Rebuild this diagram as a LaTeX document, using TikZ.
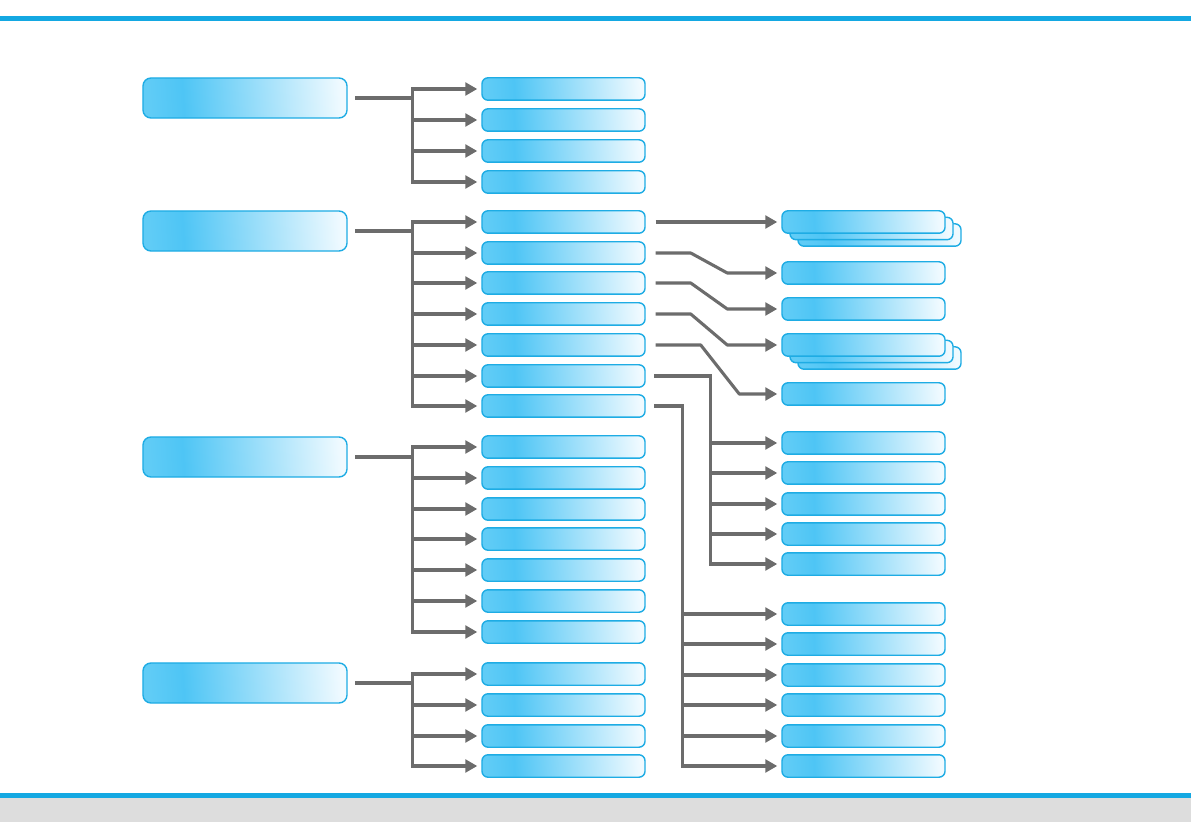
\documentclass[tikz,border=0pt]{standalone}
\usetikzlibrary{positioning,arrows.meta}
\definecolor{rulecyan}{RGB}{20,168,226}
\definecolor{bandgray}{RGB}{221,221,221}
\definecolor{linkgray}{RGB}{108,108,108}
\definecolor{boxedge}{RGB}{30,172,228}
\definecolor{boxlip}{RGB}{96,204,246}
\definecolor{boxdeep}{RGB}{78,197,245}
\definecolor{boxpale}{RGB}{240,250,255}
\pgfdeclarehorizontalshading{boxshade}{100bp}{color(0bp)=(boxlip);
  color(25bp)=(boxlip); color(34bp)=(boxdeep); color(75bp)=(boxpale);
  color(100bp)=(boxpale)}
\tikzset{
  box/.style={draw=boxedge,line width=1pt,shading=boxshade,
    shading angle=4,inner sep=0pt},
  headbox/.style={box,minimum width=5.1cm,minimum height=1cm,
    rounded corners=0.2cm},
  itembox/.style={box,minimum width=4.075cm,minimum height=0.56cm,
    rounded corners=0.15cm},
  link/.style={linkgray,line width=2.2pt,line cap=rect},
  arrow/.style={linkgray,line width=2.2pt,line join=round,
    -{Triangle[length=0.3cm,width=0.32cm]},shorten >=0.1cm},
}
\begin{document}
\begin{tikzpicture}[x=0.025cm,y=-0.025cm]
        \useasboundingbox (0,0) rectangle (1191,839);
        % rules top and bottom
        \draw[rulecyan,line width=0.125cm] (0,18.5) -- (1191,18.5);
        \fill[bandgray] (0,798) rectangle (1191,822);
        \draw[rulecyan,line width=0.125cm] (0,795.5) -- (1191,795.5);
        % left column
        \node[headbox] (cat1) at (245,98) {};
        \node[headbox] (cat2) at (245,231) {};
        \node[headbox] (cat3) at (245,457) {};
        \node[headbox] (cat4) at (245,683) {};
        % middle column
        \foreach \y [count=\i] in {89,120,151,182}
          \node[itembox] (a\i) at (563.5,\y) {};
        \foreach \y [count=\i] in {222,253,283,314,345,376,406}
          \node[itembox] (b\i) at (563.5,\y) {};
        \foreach \y [count=\i] in {447,478,509,539,570,601,632}
          \node[itembox] (c\i) at (563.5,\y) {};
        \foreach \y [count=\i] in {674,705,736,766}
          \node[itembox] (d\i) at (563.5,\y) {};
        % right column, stacked ones first
        \foreach \k in {2,1}{
          \node[itembox] (r1back\k) at (863.5+8*\k,222+6.5*\k) {};
          \node[itembox] (r4back\k) at (863.5+8*\k,345+6.5*\k) {};
        }
        \foreach \y [count=\i] in {222,273,309,345,394}
          \node[itembox] (r\i) at (863.5,\y) {};
        \foreach \y [count=\i] in {443,473,504,534,564}
          \node[itembox] (s\i) at (863.5,\y) {};
        \foreach \y [count=\i] in {614,644,675,705,736,766}
          \node[itembox] (t\i) at (863.5,\y) {};
        % left to middle
        \foreach \g/\n [count=\k] in {a/4,b/7,c/7,d/4}{
          \draw[link] ([xshift=0.225cm]cat\k.east) -- ++(56,0) coordinate (j\g);
          \draw[link] (j\g |- \g1) -- (j\g |- \g\n);
          \foreach \i in {1,...,\n}
            \draw[arrow] (j\g |- \g\i) -- (\g\i.west);
        }
        % middle to right
        \draw[arrow] ([xshift=0.25cm]b1.east) -- (r1.west);
        \foreach \i in {2,3,4}
          \draw[arrow] ([xshift=0.25cm]b\i.east) -- ++(35,0)
            -- ([xshift=-1.35cm]r\i.west) -- (r\i.west);
        \draw[arrow] ([xshift=0.25cm]b5.east) -- ++(45,0)
          -- ([xshift=-1.05cm]r5.west) -- (r5.west);
        \draw[link] ([xshift=0.25cm]b6.east) -- ++(55,0) coordinate (js)
          -- (js |- s5);
        \foreach \i in {1,...,5}
          \draw[arrow] (js |- s\i) -- (s\i.west);
        \draw[link] ([xshift=0.25cm]b7.east) -- ++(27,0) coordinate (jt)
          -- (jt |- t6);
        \foreach \i in {1,...,6}
          \draw[arrow] (jt |- t\i) -- (t\i.west);
\end{tikzpicture}
\end{document}
